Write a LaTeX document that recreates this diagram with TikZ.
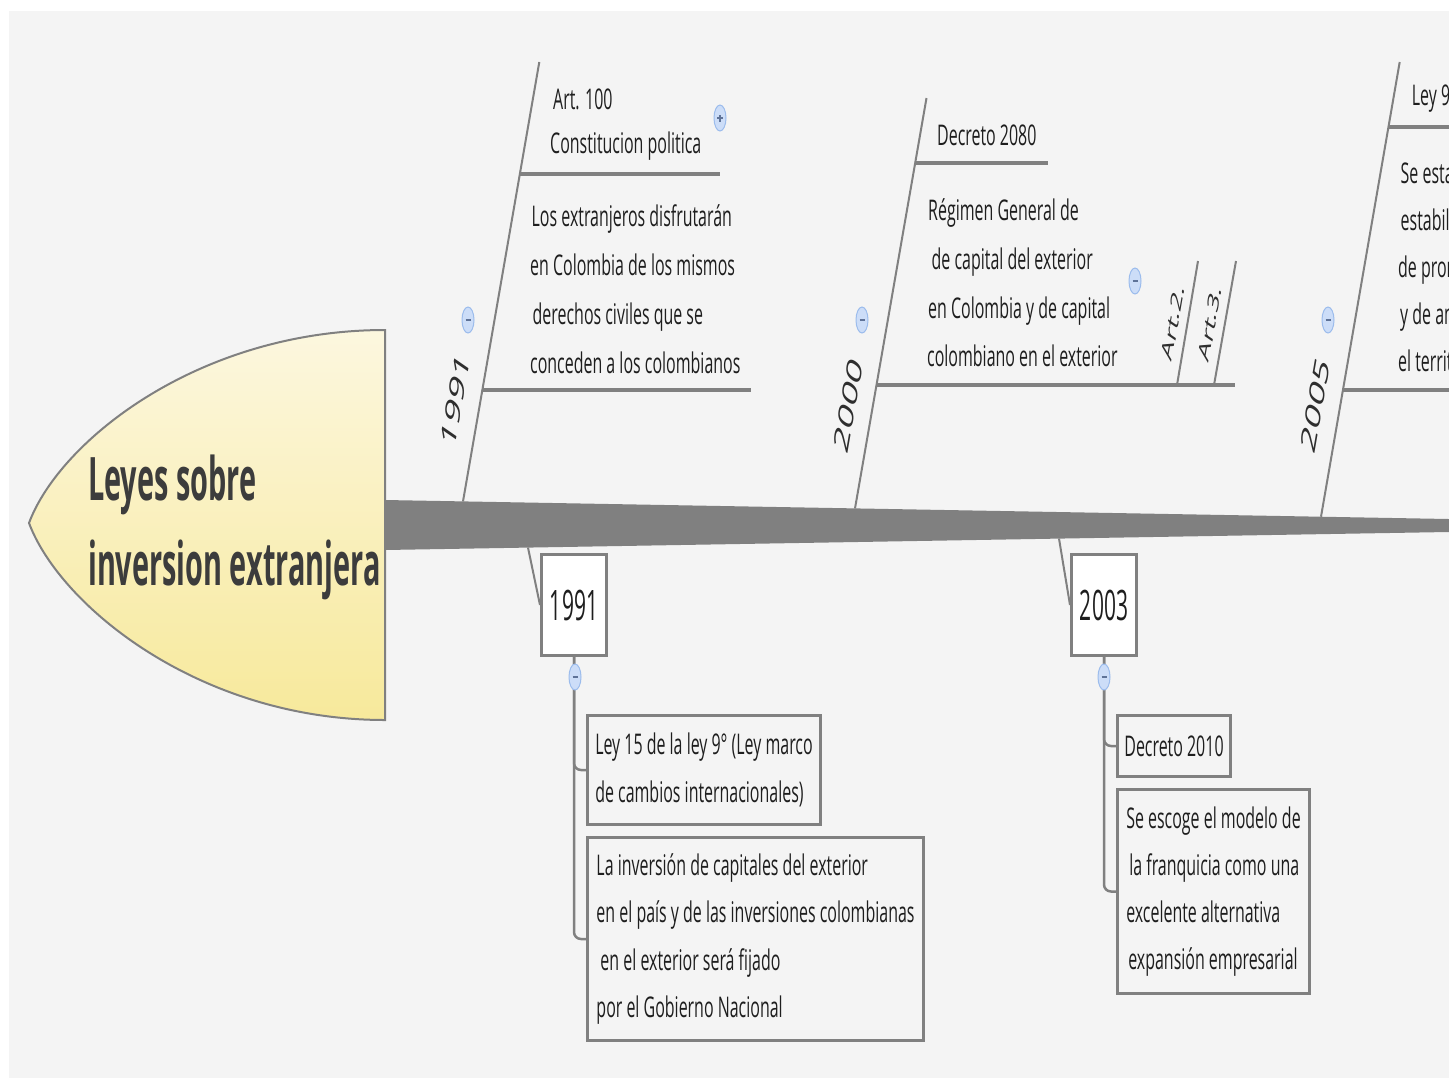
\documentclass[tikz,border=0pt]{standalone}
\usepackage{fontspec}
\setmainfont{Open Sans}
\newfontfamily\bodyf[FakeStretch=0.56]{Open Sans}
\newfontfamily\yearf[FakeStretch=0.5]{Open Sans}
\newfontfamily\titlef[FakeStretch=0.481]{Open Sans}
\newfontfamily\rotf{Open Sans}
\usetikzlibrary{shapes.geometric}
\definecolor{bg}{HTML}{F4F4F4}
\definecolor{ln}{HTML}{808080}
\definecolor{txt}{HTML}{1E1E1E}
\definecolor{ttl}{HTML}{3C3C3C}
\definecolor{rot}{HTML}{2E2E2E}
\definecolor{headtop}{HTML}{FCF7DF}
\definecolor{headbot}{HTML}{F7E99B}
\definecolor{btnfill}{HTML}{CCDDF8}
\definecolor{btnline}{HTML}{9CBCEC}
\definecolor{btnmark}{HTML}{5F7398}
\tikzset{
  bone/.style={draw=ln, line width=2pt},
  subline/.style={draw=ln, line width=3.5pt},
  conn/.style={draw=ln, line width=2.5pt, rounded corners=7pt},
  txtblock/.style={anchor=north west, inner sep=0pt, align=left, text=txt,
    font=\bodyf\fontsize{28.5}{48.9}\selectfont},
  yearbox/.style={draw=ln, line width=3pt, fill=white, minimum width=65pt,
    minimum height=101pt, inner sep=0pt, text=txt,
    font=\yearf\fontsize{42}{42}\selectfont},
  itembox/.style={draw=ln, line width=3pt, fill=bg, inner sep=0pt, align=left,
    text=txt, font=\bodyf\fontsize{28.5}{47.3}\selectfont},
  btn/.style={ellipse, draw=btnline, fill=btnfill, line width=1pt,
    minimum width=12pt, minimum height=26pt, inner sep=0pt},
  btnminus/.style={btn, path picture={\draw[btnmark, line width=1.2pt]
    ([xshift=-2.5pt]path picture bounding box.center) --
    ([xshift=2.5pt]path picture bounding box.center);}},
  btnplus/.style={btn, path picture={\draw[btnmark, line width=1.2pt]
    ([xshift=-3pt]path picture bounding box.center) --
    ([xshift=3pt]path picture bounding box.center)
    ([yshift=-3.5pt]path picture bounding box.center) --
    ([yshift=3.5pt]path picture bounding box.center);}},
  rotlabel/.style={cm={0.1633,0.9452,-0.4726,0.3265,(0,0)}, transform shape,
    inner sep=0pt, text=rot},
}
\begin{document}
\begin{tikzpicture}[x=1pt,y=-1pt]
\useasboundingbox (0,0) rectangle (1449,1080);
\clip (0,0) rectangle (1449,1080);
\fill[white] (0,0) rectangle (1449,1080);
\fill[bg] (9,11) rectangle (1460,1078);

% head
\path[draw=ln, line width=2pt, top color=headtop, bottom color=headbot]
  (385,330) .. controls (200,330) and (60,440) .. (29,523)
  .. controls (60,606) and (200,720) .. (385,720) -- cycle;
\node[anchor=north west, inner sep=0pt, align=left, text=ttl,
  font=\titlef\bfseries\fontsize{60}{85}\selectfont] (title) at (88,452)
  {\rule{0pt}{48pt}Leyes sobre\\inversion extranjera};

% spine
\fill[ln] (385,500) -- (1460,519.2) -- (1460,531.8) -- (385,550) -- cycle;

% top bones
\coordinate (b91s) at (463,501.4); \coordinate (b91t) at (539.3,62);
\coordinate (b00s) at (855,508.4); \coordinate (b00t) at (926.5,98);
\coordinate (b05s) at (1321,516.7); \coordinate (b05t) at (1399.7,62);
\draw[bone] (b91s) -- (b91t);
\draw[bone] (b00s) -- (b00t);
\draw[bone] (b05s) -- (b05t);

\coordinate (s91a1) at (519.6,174); \coordinate (s91a2) at (720,174);
\coordinate (s91b1) at (482.2,390); \coordinate (s91b2) at (751,390);
\coordinate (s00a1) at (914.8,163); \coordinate (s00a2) at (1048,163);
\coordinate (s00b1) at (876.3,385); \coordinate (s00b2) at (1235,385);
\coordinate (s05a1) at (1388.4,127); \coordinate (s05a2) at (1460,127);
\coordinate (s05b1) at (1342.9,390); \coordinate (s05b2) at (1460,390);
\draw[subline] (s91a1) -- (s91a2);
\draw[subline] (s91b1) -- (s91b2);
\draw[subline] (s00a1) -- (s00a2);
\draw[subline] (s00b1) -- (s00b2);
\draw[subline] (s05a1) -- (s05a2);
\draw[subline] (s05b1) -- (s05b2);

\coordinate (a2s) at (1177,385); \coordinate (a2t) at (1198,261);
\coordinate (a3s) at (1214,385); \coordinate (a3t) at (1236,261);
\draw[bone] (a2s) -- (a2t);
\draw[bone] (a3s) -- (a3t);

% rotated labels
\begin{scope}[shift={(455,400)}]
  \node[rotlabel, font=\rotf\fontsize{42}{42}\selectfont] (l1991) at (0,0) {1991};
\end{scope}
\begin{scope}[shift={(848,405)}]
  \node[rotlabel, font=\rotf\fontsize{42}{42}\selectfont] (l2000) at (0,0) {2000};
\end{scope}
\begin{scope}[shift={(1315,405)}]
  \node[rotlabel, font=\rotf\fontsize{42}{42}\selectfont] (l2005) at (0,0) {2005};
\end{scope}
\begin{scope}[shift={(1173,322)}]
  \node[rotlabel, font=\rotf\fontsize{31}{31}\selectfont] (lart2) at (0,0) {Art.2.};
\end{scope}
\begin{scope}[shift={(1210,323)}]
  \node[rotlabel, font=\rotf\fontsize{31}{31}\selectfont] (lart3) at (0,0) {Art.3.};
\end{scope}

% top texts
\node[txtblock, font=\bodyf\fontsize{28.5}{44}\selectfont] (t91a) at (550,85.3)
  {\rule{0pt}{24pt}\hspace*{3pt}Art. 100\\Constitucion politica};
\node[txtblock] (t91b) at (530,202.7)
  {\rule{0pt}{24pt}\hspace*{1.5pt}Los extranjeros disfrutarán\\en Colombia de los mismos\\\hspace*{2.5pt}derechos civiles que se\\conceden a los colombianos};
\node[txtblock] (t00a) at (937,121) {\rule{0pt}{24pt}Decreto 2080};
\node[txtblock] (t00b) at (927,196)
  {\rule{0pt}{24pt}\hspace*{1pt}Régimen General de\\\hspace*{4.5pt}de capital del exterior\\\hspace*{1pt}en Colombia y de capital\\colombiano en el exterior};
\node[txtblock] (t05a) at (1411.7,81) {\rule{0pt}{24pt}Ley 9};
\node[txtblock, font=\bodyf\fontsize{28.5}{47.1}\selectfont] (t05b) at (1398,159)
  {\rule{0pt}{24pt}\hspace*{2.5pt}Se esta\\\hspace*{2.5pt}estabil\\de prom\\\hspace*{2pt}y de am\\el territ};

% buttons top
\node[btnminus] (c91) at (468,320) {};
\node[btnminus] (c00) at (862,320) {};
\node[btnminus] (c05) at (1328,320) {};
\node[btnminus] (cart) at (1135,281) {};
\node[btnplus] (c100) at (720,118) {};

% lower part
\node[yearbox] (y91) at (574,605) {1991};
\node[yearbox] (y03) at (1104,605) {2003};
\coordinate (lb91) at (528,547.6);
\coordinate (lb03) at (1059,538.6);
\draw[bone] (lb91) -- (y91.west);
\draw[bone] (lb03) -- (y03.west);

\node[itembox, minimum width=233pt, minimum height=109pt, font=\bodyf\fontsize{28.5}{48.3}\selectfont] (k91a) at (704,770)
  {Ley 15 de la ley 9° (Ley marco\\de cambios internacionales)};
\node[itembox, minimum width=336pt, minimum height=203pt] (k91b) at (755.5,939)
  {La inversión de capitales del exterior\\en el país y de las inversiones colombianas\\\hspace*{4pt}en el exterior será fijado\\por el Gobierno Nacional};
\node[itembox, minimum width=113pt, minimum height=61pt] (k03a) at (1174,746)
  {Decreto 2010};
\node[itembox, minimum width=192pt, minimum height=204pt, font=\bodyf\fontsize{28.5}{47}\selectfont] (k03b) at (1213.5,891.5)
  {Se escoge el modelo de\\\hspace*{3pt}la franquicia como una\\excelente alternativa\\\hspace*{2pt}expansión empresarial};

\draw[conn] (y91.south) |- (k91a.west);
\draw[conn] (y91.south) |- (k91b.west);
\draw[conn] (y03.south) |- (k03a.west);
\draw[conn] (y03.south) |- (k03b.west);

\node[btnminus] (cy91) at (575,677) {};
\node[btnminus] (cy03) at (1104,677) {};
\end{tikzpicture}
\end{document}
